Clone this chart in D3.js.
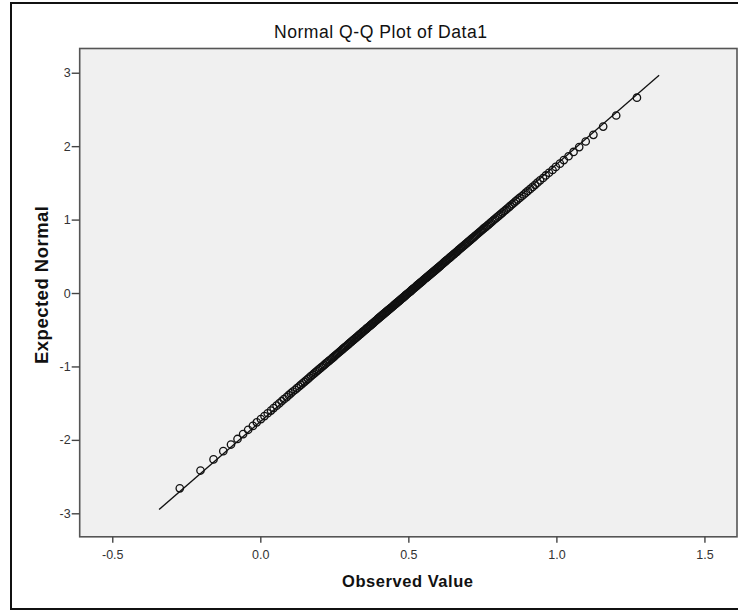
<!DOCTYPE html>
<html>
<head>
<meta charset="utf-8">
<script src="https://cdnjs.cloudflare.com/ajax/libs/d3/7.8.5/d3.min.js"></script>
<style>
  body { margin: 0; background: #fff; }
  svg { display: block; }
</style>
</head>
<body>
<script>
var observed = [
  -0.272, -0.202, -0.158, -0.125, -0.099, -0.077, -0.058, -0.041, -0.025, -0.012,
  0.002, 0.014, 0.025, 0.036, 0.045, 0.055, 0.064, 0.072, 0.080, 0.089,
  0.096, 0.103, 0.110, 0.118, 0.124, 0.131, 0.137, 0.143, 0.149, 0.155,
  0.161, 0.166, 0.171, 0.177, 0.182, 0.187, 0.192, 0.197, 0.202, 0.207,
  0.212, 0.216, 0.221, 0.225, 0.230, 0.234, 0.239, 0.243, 0.247, 0.251,
  0.255, 0.259, 0.263, 0.267, 0.271, 0.275, 0.278, 0.282, 0.286, 0.290,
  0.294, 0.297, 0.301, 0.304, 0.308, 0.311, 0.315, 0.318, 0.322, 0.325,
  0.329, 0.332, 0.335, 0.339, 0.342, 0.345, 0.348, 0.352, 0.355, 0.358,
  0.361, 0.364, 0.368, 0.371, 0.374, 0.377, 0.380, 0.383, 0.386, 0.389,
  0.392, 0.395, 0.398, 0.401, 0.404, 0.407, 0.410, 0.413, 0.416, 0.419,
  0.422, 0.425, 0.428, 0.431, 0.434, 0.437, 0.440, 0.443, 0.446, 0.449,
  0.451, 0.454, 0.457, 0.460, 0.463, 0.466, 0.469, 0.472, 0.474, 0.477,
  0.480, 0.483, 0.486, 0.489, 0.491, 0.494, 0.497,
  0.500,
  0.503, 0.506, 0.509, 0.511, 0.514, 0.517, 0.520, 0.523, 0.526, 0.528,
  0.531, 0.534, 0.537, 0.540, 0.543, 0.546, 0.549, 0.551, 0.554, 0.557,
  0.560, 0.563, 0.566, 0.569, 0.572, 0.575, 0.578, 0.581, 0.584, 0.587,
  0.590, 0.593, 0.596, 0.599, 0.602, 0.605, 0.608, 0.611, 0.614, 0.617,
  0.620, 0.623, 0.626, 0.629, 0.632, 0.636, 0.639, 0.642, 0.645, 0.648,
  0.652, 0.655, 0.658, 0.662, 0.665, 0.668, 0.671, 0.675, 0.678, 0.682,
  0.685, 0.689, 0.692, 0.696, 0.699, 0.703, 0.707, 0.710, 0.714, 0.718,
  0.722, 0.725, 0.729, 0.733, 0.737, 0.741, 0.745, 0.749, 0.753, 0.757,
  0.762, 0.766, 0.771, 0.775, 0.779, 0.784, 0.788, 0.793, 0.798, 0.803,
  0.808, 0.813, 0.818, 0.823, 0.829, 0.834, 0.840, 0.845, 0.851, 0.857,
  0.863, 0.869, 0.876, 0.883, 0.890, 0.897, 0.904, 0.912, 0.920, 0.928,
  0.936, 0.945, 0.955, 0.964, 0.975, 0.987, 0.998, 1.012, 1.025, 1.041,
  1.058, 1.077, 1.099, 1.125, 1.158, 1.202, 1.272
];

// reference line (normal fitted to the data)
var refMean = 0.5;
var refSd = 0.2855;
var refLineX = [-0.342, 1.347];

var xDomain = [-0.610, 1.610];
var yDomain = [-3.32, 3.33];
var xTicks = [-0.5, 0.0, 0.5, 1.0, 1.5];
var yTicks = [-3, -2, -1, 0, 1, 2, 3];

var titleText = "Normal Q-Q Plot of Data1";
var xLabel = "Observed Value";
var yLabel = "Expected Normal";

// inverse standard normal cdf (Acklam)
function probit(p) {
  var a = [-3.969683028665376e+01, 2.209460984245205e+02, -2.759285104469687e+02,
           1.383577518672690e+02, -3.066479806614716e+01, 2.506628277459239e+00];
  var b = [-5.447609879822406e+01, 1.615858368580409e+02, -1.556989798598866e+02,
           6.680131188771972e+01, -1.328068155288572e+01];
  var c = [-7.784894002430293e-03, -3.223964580411365e-01, -2.400758277161838e+00,
           -2.549732539343734e+00, 4.374664141464968e+00, 2.938163982698783e+00];
  var d = [7.784695709041462e-03, 3.224671290700398e-01, 2.445134137142996e+00,
           3.754408661907416e+00];
  var plow = 0.02425, q, r;
  if (p < plow) {
    q = Math.sqrt(-2 * Math.log(p));
    return (((((c[0]*q+c[1])*q+c[2])*q+c[3])*q+c[4])*q+c[5]) /
           ((((d[0]*q+d[1])*q+d[2])*q+d[3])*q+1);
  }
  if (p > 1 - plow) return -probit(1 - p);
  q = p - 0.5;
  r = q * q;
  return (((((a[0]*r+a[1])*r+a[2])*r+a[3])*r+a[4])*r+a[5])*q /
         (((((b[0]*r+b[1])*r+b[2])*r+b[3])*r+b[4])*r+1);
}

// expected normal scores, Van der Waerden: rank / (n + 1)
var sorted = observed.slice().sort(d3.ascending);
var n = sorted.length;
var points = sorted.map(function(v, i) {
  return { x: v, y: probit((i + 1) / (n + 1)) };
});

// plain hyphen for negatives, like the original
function hyphen(f) {
  return function(v) { return f(v).replace("\u2212", "-"); };
}

var width = 738, height = 610;
var plot = { left: 79.7, top: 48.5, right: 737, bottom: 536.8 };
var font = "'Liberation Sans', Arial, Helvetica, sans-serif";

var svg = d3.select("body").append("svg")
  .attr("width", width)
  .attr("height", height);

svg.append("rect")
  .attr("width", width).attr("height", height)
  .attr("fill", "#fff");

// outer frame
svg.append("rect")
  .attr("x", 11).attr("y", 3)
  .attr("width", 740).attr("height", 606)
  .attr("fill", "none")
  .attr("stroke", "#111")
  .attr("stroke-width", 2);

var x = d3.scaleLinear().domain(xDomain).range([plot.left, plot.right]);
var y = d3.scaleLinear().domain(yDomain).range([plot.bottom, plot.top]);

svg.append("rect")
  .attr("x", plot.left).attr("y", plot.top)
  .attr("width", plot.right - plot.left)
  .attr("height", plot.bottom - plot.top)
  .attr("fill", "#f0f0f0")
  .attr("stroke", "#555")
  .attr("stroke-width", 1.6);

var xAxis = svg.append("g")
  .attr("transform", "translate(0," + plot.bottom + ")")
  .call(d3.axisBottom(x).tickValues(xTicks).tickFormat(hyphen(d3.format(".1f")))
    .tickSize(6).tickSizeOuter(0).tickPadding(7));

var yAxis = svg.append("g")
  .attr("transform", "translate(" + plot.left + ",0)")
  .call(d3.axisLeft(y).tickValues(yTicks).tickFormat(hyphen(d3.format("d")))
    .tickSize(8).tickSizeOuter(0).tickPadding(1));

[xAxis, yAxis].forEach(function(g) {
  g.select(".domain").remove();
  g.selectAll(".tick line").attr("stroke", "#444").attr("stroke-width", 1.4);
  g.selectAll(".tick text")
    .attr("fill", "#333")
    .style("font-family", font)
    .style("font-size", "12.5px");
});

// reference line
svg.append("line")
  .attr("x1", x(refLineX[0]))
  .attr("y1", y((refLineX[0] - refMean) / refSd))
  .attr("x2", x(refLineX[1]))
  .attr("y2", y((refLineX[1] - refMean) / refSd))
  .attr("stroke", "#111")
  .attr("stroke-width", 1.3);

svg.append("g").selectAll("circle")
  .data(points)
  .enter().append("circle")
  .attr("cx", function(d) { return x(d.x); })
  .attr("cy", function(d) { return y(d.y); })
  .attr("r", 3.7)
  .attr("fill", "none")
  .attr("stroke", "#111")
  .attr("stroke-width", 1.3);

// texts
svg.append("text")
  .attr("x", 274).attr("y", 38.3)
  .attr("textLength", 213)
  .style("font-family", font)
  .style("font-size", "17.6px")
  .attr("fill", "#111")
  .text(titleText);

svg.append("text")
  .attr("x", 342).attr("y", 586.7)
  .attr("textLength", 131)
  .style("font-family", font)
  .style("font-size", "16.5px")
  .style("font-weight", "bold")
  .attr("fill", "#111")
  .text(xLabel);

svg.append("text")
  .attr("transform", "translate(48,364) rotate(-90)")
  .attr("textLength", 158)
  .style("font-family", font)
  .style("font-size", "18.5px")
  .style("font-weight", "bold")
  .attr("fill", "#111")
  .text(yLabel);
</script>
</body>
</html>
